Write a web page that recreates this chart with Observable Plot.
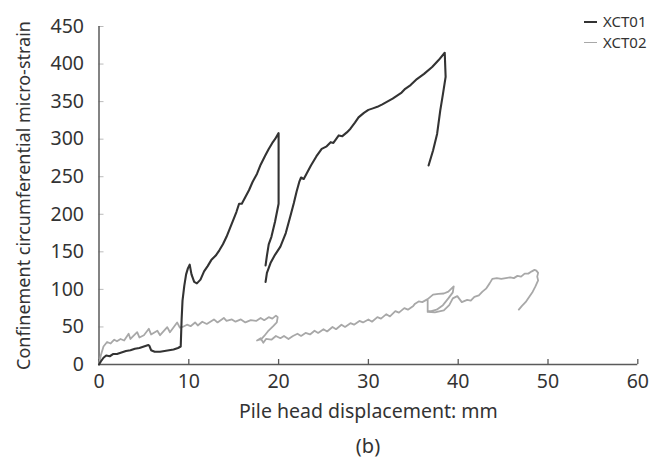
<!DOCTYPE html>
<html>
<head>
<meta charset="utf-8">
<script src="https://cdn.jsdelivr.net/npm/d3@7"></script>
<script src="https://cdn.jsdelivr.net/npm/@observablehq/plot@0.6"></script>
<style>
  html, body { margin: 0; padding: 0; background: #fff; }
  body { width: 667px; height: 459px; position: relative; overflow: hidden; font-family: "Noto Sans", "Open Sans", sans-serif; color: #333; }
  #chart svg { display: block; }
  #chart svg g[aria-label$="tick label"] { font-size: 19.5px; }
  #chart svg g[aria-label$="tick label"] text { font-size: 19.5px; }
  .legend { position: absolute; left: 584px; top: 11px; font-size: 15px; line-height: 21px; color: #333; }
  .legend .row { display: flex; align-items: center; white-space: nowrap; }
  .legend .sw { width: 13px; height: 0; margin-right: 6px; }
  .caption { position: absolute; left: 98px; width: 540px; top: 433px; text-align: center; font-size: 20px; line-height: 26px; color: #333; }
</style>
</head>
<body>
<div id="chart"></div>
<div class="legend">
  <div class="row"><span class="sw" style="border-top:2.5px solid #333"></span>XCT01</div>
  <div class="row"><span class="sw" style="border-top:1.5px solid #a8a8a8"></span>XCT02</div>
</div>
<div class="caption">(b)</div>
<script>
const seriesNames = ["XCT01", "XCT02"];
const xTicks = [0, 10, 20, 30, 40, 50, 60];
const yTicks = [0, 50, 100, 150, 200, 250, 300, 350, 400, 450];

// XCT01 : pile head displacement (mm) / micro-strain
const xct01X = [0,0.2,0.5,0.8,1.2,1.6,2.0,2.5,3.0,3.5,4.0,4.5,5.0,5.5,5.6,5.8,6.2,6.8,7.3,7.8,8.3,8.8,9.1,9.2,9.3,9.5,9.7,9.9,10.1,10.3,10.6,10.9,11.3,11.7,12.1,12.5,13.0,13.4,13.8,14.2,14.6,14.9,15.3,15.6,15.9,16.3,16.7,17.1,17.6,18.0,18.5,18.9,19.3,19.6,19.9,20.0,20.0,19.6,19.2,18.9,18.7,18.55,
  18.55,18.55,18.7,19.1,19.6,20.2,20.8,21.3,21.7,22.0,22.3,22.5,22.8,23.2,23.6,24.2,24.8,25.3,25.8,26.1,26.4,26.7,27.1,27.6,28.0,28.5,28.9,29.5,30.0,30.5,31.0,31.5,32.1,32.7,33.2,33.7,34.1,34.7,35.4,36.2,37.1,37.8,38.5,38.6,38.3,38.0,37.65,37.2,36.7];
const xct01Y = [0,4,9,12,11,14,14,16,18,19,21,22,24,26,25,19,17,17,18,19,20,22,24,60,85,105,120,128,133,120,110,108,113,124,131,139,145,152,160,170,182,191,203,214,214,223,232,243,254,266,278,287,295,300,306,308,214,190,170,160,145,132,
  null,110,122,135,146,157,175,197,215,230,243,249,247,256,265,277,287,290,296,295,300,305,304,309,314,322,329,335,339,341,343,346,350,354,358,362,367,372,380,387,396,405,415,383,360,338,307,285,265];

// XCT02
const xct02X = [0,0.2,0.5,0.9,1.3,1.7,2.0,2.4,2.8,3.3,3.5,4.25,4.5,5.0,5.55,5.8,6.5,6.8,7.6,7.9,8.7,9.0,9.3,9.8,10.2,10.7,11.0,11.5,12.0,12.4,12.8,13.2,13.9,14.2,14.8,15.2,15.8,16.3,16.9,17.5,18.0,18.4,18.9,19.3,19.7,19.9,19.8,19.4,18.8,18.4,18.1,17.6,18.0,18.3,18.6,19.2,19.7,20.2,20.6,21.1,21.6,22.1,22.5,23.0,23.5,24.0,24.4,25.0,25.4,26.0,26.4,27.0,27.4,28.0,28.4,29.0,29.4,30.0,30.4,31.0,31.4,32.0,32.4,33.0,33.4,34.0,34.4,35.0,35.2,35.6,36.0,36.6,37.2,37.8,38.4,38.9,39.5,39.4,38.9,38.3,37.6,37.0,36.6,36.6,36.6,37.4,38.4,39.0,39.4,39.9,40.4,41.0,41.4,41.8,42.3,42.7,43.1,43.5,43.8,44.3,44.8,45.3,45.8,46.2,46.6,47.0,47.4,47.8,48.2,48.5,48.7,48.9,48.8,48.9,48.6,48.3,47.9,47.5,47.1,46.75];
const xct02Y = [0,12,24,30,28,33,31,34,32,41,34,43,36,39,47.5,40,45,39,49.7,43,56,49,50,53,51,56,52,57,54,57,60,56,62,58,60,57,60,56,59,58,62,59,63,61,65,63,56,51,44,38,34,32,35,29,34,33,38,35,38,34,38,41,38,42,40,45,42,47,44,50,47,53,50,55,53,58,56,60,57,63,61,67,64,71,69,75,73,78,81,84,83,87,93,94,94.5,97,104,96,88,79,73,71,71,86,70,69.5,72,79,88,91,83,86,85,90,92,97,101,108,114,115,114,115,116,115,118,117,121,121,124,126,125,122,117,112,104,97,90,83,78,73];

const colors = {XCT01: "#333333", XCT02: "#a8a8a8"};
const xct01 = xct01X.map((x, i) => ({x, y: xct01Y[i]}));
const xct02 = xct02X.map((x, i) => ({x, y: xct02Y[i]}));

const axisColor = "#5a5a5a";
const font = "'Noto Sans', 'Open Sans', sans-serif";
const chart = Plot.plot({
  width: 667,
  height: 425,
  marginLeft: 98.5,
  marginRight: 29.7,
  marginTop: 26,
  marginBottom: 61,
  style: {fontFamily: font, fontSize: "18px", color: "#333", background: "#fff"},
  x: {domain: [0, 60]},
  y: {domain: [0, 450]},
  marks: [
    Plot.axisX({ticks: xTicks, tickSize: -5, tickPadding: 15, fontSize: 19.5, stroke: axisColor, strokeWidth: 1.3, label: null, fill: "#333"}),
    Plot.axisX({ticks: [], fontSize: 19.5, label: "Pile head displacement: mm", labelAnchor: "center", labelArrow: "none", labelOffset: 53, fill: "#333"}),
    Plot.axisY({ticks: yTicks, tickSize: -5, tickPadding: 20, fontSize: 19.5, stroke: "#bbb", strokeWidth: 1, label: null, fill: "#333"}),
    Plot.axisY({ticks: [], fontSize: 18, label: "Confinement circumferential micro-strain", labelAnchor: "center", labelArrow: "none", labelOffset: 82, fill: "#333"}),
    Plot.ruleY([0], {stroke: axisColor, strokeWidth: 1.5}),
    Plot.ruleX([0], {stroke: axisColor, strokeWidth: 1.5}),
    Plot.line(xct02, {x: "x", y: "y", stroke: colors.XCT02, strokeWidth: 1.8, strokeLinejoin: "round"}),
    Plot.line(xct01, {x: "x", y: "y", stroke: colors.XCT01, strokeWidth: 2.1, strokeLinejoin: "round"})
  ]
});
document.getElementById("chart").append(chart);
</script>
</body>
</html>
